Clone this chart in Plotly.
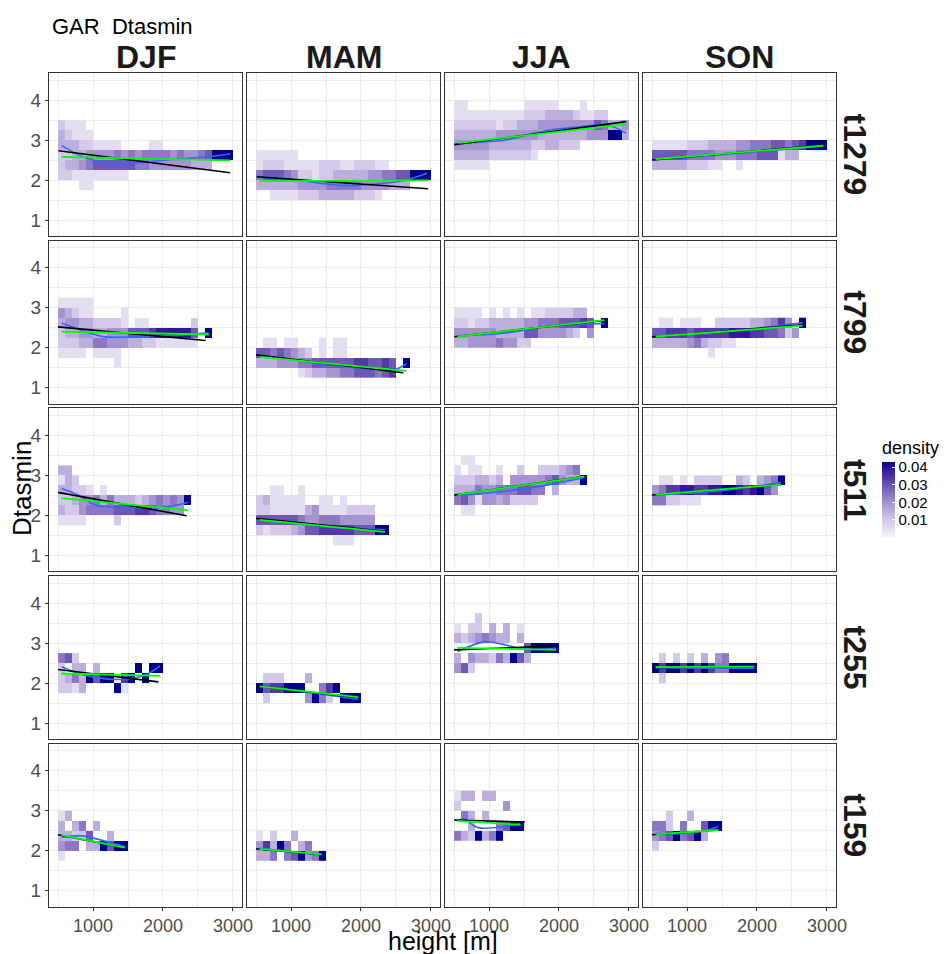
import plotly.graph_objects as go

W, H = 947, 954
SEASONS = ["DJF", "MAM", "JJA", "SON"]
PERIODS = ["t1279", "t799", "t511", "t255", "t159"]

X_BIN0 = 500      # left edge of first height bin [m]
X_BIN = 100       # height bin width [m]
Y_BIN = 0.25      # Dtasmin bin height
LEVEL_DENSITY = 0.0048   # density per shade level (digit)

# ---- binned density: (lower Dtasmin edge, shade levels per height bin from 500 m; '.' = empty)
T1279_DJF = [(3.25, "2111"), (3.0, "32111"), (2.75, "333221111....11"),
             (2.5, "2233444454545555454456999"), (2.25, "2334566666655444444333"),
             (2.0, "2211111111"), (1.75, "...11")]
T1279_MAM = [(2.5, "111111"), (2.25, "1222111112221122211"),
             (2.0, "5666542212233333445566999"), (1.75, "3333334444555554444333"),
             (1.5, "..1111222333332221")]
T1279_JJA = [(3.75, "11........11111...1"), (3.5, "1111111111222333321122"),
             (3.25, "2222221223334444444465334"), (3.0, "3333334444443333333444993"),
             (2.75, "444443333332233222"), (2.5, "333332222221"), (2.25, "11111")]
T1279_SON = [(2.75, "1111122233334455566567999"), (2.5, "666665555444555666133."),
             (2.25, "3333322211..1")]

T799_DJF = [(3.0, "11111"), (2.75, "43211....1"), (2.5, "3443322221.11......2"),
            (2.25, "23344334446667888886.9"), (2.0, "22233554443322111111"),
            (1.75, "1111.1111"), (1.5, "........1")]
T799_MAM = [(2.0, ".11.11...1.11"), (1.75, "66565432.1.11"),
            (1.5, "33344455666666776676.9"), (1.25, "......12334455666567")]
T799_JJA = [(2.75, "1111.1.1.1.11222233"), (2.5, "22122333334455566676.9"),
            (2.25, "444444333366444432.4"), (2.0, "33444454422")]
T799_SON = [(2.5, ".11.111..22222334574.9"), (2.25, "667776777778887766524"),
            (2.0, "333334532211"), (1.75, "........1")]

T511_DJF = [(3.0, "33"), (2.75, "132"), (2.5, "33221.1"),
            (2.25, "2234453533323454549"), (2.0, "322455556667765544"),
            (1.75, "1111....2")]
T511_MAM = [(2.5, "..11..1"), (2.25, "2311111..11.1"), (2.0, "22111113411112222"),
            (1.75, "66666654455544444"), (1.5, "2122234667777766699"),
            (1.25, "...........111")]
T511_JJA = [(3.25, ".11"), (3.0, "1.11..1..2..222345"), (2.75, "2223323.44444564339"),
            (2.5, "3335445556655.3"), (2.25, "564144342222"), (2.0, ".11")]
T511_SON = [(2.75, ".11.1.2222..32.3459"), (2.5, "457788778899878964."),
            (2.25, "5522111")]

T255_DJF = [(2.5, "562"), (2.25, "2.33.3.....9.99"), (2.0, "23539699.79.9"),
            (1.75, "2213....91")]
T255_MAM = [(2.0, ".222...3"), (1.75, "9677999..579"), (1.5, ".2.....4952.999")]
T255_JJA = [(3.5, "...2"), (3.25, "1.22.3.3.1"), (3.0, "32345433.3"),
            (2.75, "..........69999"), (2.5, "3.433253963"), (2.25, "462")]
T255_SON = [(2.5, ".2.2.2.3.45"), (2.25, "979979797559999"), (2.0, ".2")]

T159_DJF = [(2.75, "13"), (2.5, "3.35.3"), (2.25, "33226..3"), (2.0, "455.339699"),
            (1.75, "1")]
T159_MAM = [(2.25, "1.2..3"), (2.0, "47395.35"), (1.75, "335.569459")]
T159_JJA = [(3.25, "133.33"), (3.0, "2......4"), (2.75, ".53.3"), (2.5, "..3...5699"),
            (2.25, "5329359")]
T159_SON = [(2.75, "..2..3"), (2.5, "552.5..699"), (2.25, "45695693"), (2.0, "2")]

# ---- fitted lines: (height, Dtasmin) points
LINES = {
    ("t1279", "DJF"): dict(black=[(505, 2.73), (2960, 2.18)], green=[(550, 2.58), (2960, 2.49)],
                          blue=[(550, 2.86), (900, 2.55), (1250, 2.41), (1700, 2.44), (2050, 2.5), (2500, 2.56), (2960, 2.65)]),
    ("t1279", "MAM"): dict(black=[(510, 2.08), (2960, 1.78)], green=[(550, 1.97), (2960, 1.99)],
                          blue=[(510, 2.09), (1000, 2.02), (1500, 1.9), (1800, 1.86), (2200, 1.9), (2600, 1.98), (2940, 2.17)]),
    ("t1279", "JJA"): dict(black=[(500, 2.88), (2960, 3.46)], green=[(560, 2.93), (2960, 3.39)],
                          blue=[(500, 2.9), (900, 2.95), (1250, 3.0), (1600, 3.15), (1870, 3.25), (2300, 3.33), (2700, 3.37), (2960, 3.17)]),
    ("t1279", "SON"): dict(black=[(500, 2.5), (2950, 2.875)], green=[(550, 2.52), (2950, 2.86)],
                          blue=[(520, 2.5), (1500, 2.63), (2500, 2.78), (2950, 2.86)]),
    ("t799", "DJF"): dict(black=[(500, 2.52), (2610, 2.18)], green=[(550, 2.4), (2660, 2.33)],
                         blue=[(550, 2.62), (900, 2.4), (1170, 2.27), (1740, 2.29), (2200, 2.31), (2650, 2.37)]),
    ("t799", "MAM"): dict(black=[(500, 1.82), (2605, 1.375)], green=[(550, 1.77), (2650, 1.42)],
                         blue=[(520, 1.8), (1200, 1.66), (1800, 1.52), (2300, 1.45), (2500, 1.46), (2650, 1.6)]),
    ("t799", "JJA"): dict(black=[(500, 2.275), (2650, 2.68)], green=[(550, 2.28), (2650, 2.69)],
                         blue=[(550, 2.3), (1200, 2.36), (1900, 2.55), (2650, 2.6)]),
    ("t799", "SON"): dict(black=[(500, 2.27), (2650, 2.57)], green=[(550, 2.28), (2650, 2.55)],
                         blue=[(550, 2.3), (1500, 2.4), (2650, 2.62)]),
    ("t511", "DJF"): dict(black=[(500, 2.575), (2340, 1.99)], green=[(550, 2.43), (2360, 2.13)],
                         blue=[(550, 2.67), (800, 2.5), (1030, 2.26), (1500, 2.2), (2000, 2.2), (2360, 2.33)]),
    ("t511", "MAM"): dict(black=[(500, 1.925), (2343, 1.6)], green=[(550, 1.89), (2343, 1.59)],
                         blue=[(550, 1.9), (1500, 1.72), (2343, 1.64)]),
    ("t511", "JJA"): dict(black=[(500, 2.51), (2362, 2.975)], green=[(550, 2.52), (2362, 2.97)],
                         blue=[(550, 2.5), (1300, 2.62), (1800, 2.75), (2362, 2.95)]),
    ("t511", "SON"): dict(black=[(500, 2.51), (2343, 2.77)], green=[(550, 2.52), (2343, 2.77)],
                         blue=[(550, 2.51), (1500, 2.62), (2343, 2.82)]),
    ("t255", "DJF"): dict(black=[(500, 2.34), (1933, 2.03)], green=[(550, 2.24), (1960, 2.18)],
                         blue=[(553, 2.41), (886, 2.2), (1410, 2.09), (1743, 2.2), (1957, 2.43)]),
    ("t255", "MAM"): dict(black=[(500, 1.93), (1938, 1.64)], green=[(550, 1.92), (1960, 1.65)],
                         blue=[(550, 1.92), (1200, 1.78), (1960, 1.6)]),
    ("t255", "JJA"): dict(black=[(500, 2.83), (1957, 2.93)], green=[(550, 2.88), (1957, 2.83)],
                         blue=[(550, 2.79), (934, 3.03), (1170, 2.98), (1500, 2.85), (1957, 2.87)]),
    ("t255", "SON"): dict(black=[(500, 2.385), (1962, 2.41)], green=[(550, 2.4), (1962, 2.41)],
                         blue=[(550, 2.37), (1962, 2.37)]),
    ("t159", "DJF"): dict(black=[(500, 2.4), (1457, 2.075)], green=[(550, 2.39), (1457, 2.08)],
                         blue=[(550, 2.34), (800, 2.38), (900, 2.36), (1457, 2.1)]),
    ("t159", "MAM"): dict(black=[(500, 2.05), (1438, 1.9)], green=[(550, 2.05), (1438, 1.91)],
                         blue=[(550, 2.06), (1438, 1.9)]),
    ("t159", "JJA"): dict(black=[(500, 2.77), (1514, 2.72)], green=[(550, 2.75), (1450, 2.65)],
                         blue=[(539, 2.74), (633, 2.8), (847, 2.58), (1443, 2.68)]),
    ("t159", "SON"): dict(black=[(500, 2.4), (1447, 2.52)], green=[(550, 2.41), (1447, 2.52)],
                         blue=[(550, 2.43), (1100, 2.45), (1447, 2.6)]),
}

BINS = {
    ("t1279", "DJF"): T1279_DJF, ("t1279", "MAM"): T1279_MAM, ("t1279", "JJA"): T1279_JJA, ("t1279", "SON"): T1279_SON,
    ("t799", "DJF"): T799_DJF, ("t799", "MAM"): T799_MAM, ("t799", "JJA"): T799_JJA, ("t799", "SON"): T799_SON,
    ("t511", "DJF"): T511_DJF, ("t511", "MAM"): T511_MAM, ("t511", "JJA"): T511_JJA, ("t511", "SON"): T511_SON,
    ("t255", "DJF"): T255_DJF, ("t255", "MAM"): T255_MAM, ("t255", "JJA"): T255_JJA, ("t255", "SON"): T255_SON,
    ("t159", "DJF"): T159_DJF, ("t159", "MAM"): T159_MAM, ("t159", "JJA"): T159_JJA, ("t159", "SON"): T159_SON,
}

X_TICKS = [1000, 2000, 3000]
X_MINOR = [500, 1500, 2500]
Y_TICKS = [1, 2, 3, 4]
Y_MINOR = [1.5, 2.5, 3.5, 4.5]
X_RANGE = [371, 3129]
Y_RANGE = [0.6, 4.675]
CB_TICKS = [0.01, 0.02, 0.03, 0.04]

# ---- layout geometry (pixels)
COL_L = [49, 247, 445, 643]
PW = 193
ROW_T = [73 + r * 167.7 for r in range(5)]
PH = 163

FONT = "Liberation Sans, Arial, sans-serif"
GRID = "#ebebeb"

fig = go.Figure()


def build_heat(rows):
    lows = sorted(set(r[0] for r in rows))
    ylo, yhi = min(lows), max(lows)
    n_y = int(round((yhi - ylo) / Y_BIN)) + 1
    n_x = max(len(s) for _, s in rows)
    z = [[None] * n_x for _ in range(n_y)]
    for low, s in rows:
        j = int(round((low - ylo) / Y_BIN))
        for k, ch in enumerate(s):
            if ch.isdigit() and ch != "0":
                z[j][k] = int(ch) * LEVEL_DENSITY
    xs = [X_BIN0 + X_BIN * (k + 0.5) for k in range(n_x)]
    ys = [ylo + Y_BIN * (j + 0.5) for j in range(n_y)]
    return xs, ys, z


layout_axes = {}
for r, per in enumerate(PERIODS):
    for c, sea in enumerate(SEASONS):
        i = r * 4 + c + 1
        xa = "x" if i == 1 else f"x{i}"
        ya = "y" if i == 1 else f"y{i}"
        xs, ys, z = build_heat(BINS[(per, sea)])
        fig.add_trace(go.Heatmap(x=xs, y=ys, z=z, coloraxis="coloraxis", xaxis=xa, yaxis=ya,
                                 xgap=0, ygap=0, hoverinfo="skip"))
        ln = LINES[(per, sea)]
        fig.add_trace(go.Scatter(x=[p[0] for p in ln["blue"]], y=[p[1] for p in ln["blue"]],
                                 mode="lines", line=dict(color="#3366ff", width=1.6, shape="spline"),
                                 xaxis=xa, yaxis=ya, hoverinfo="skip"))
        fig.add_trace(go.Scatter(x=[p[0] for p in ln["black"]], y=[p[1] for p in ln["black"]],
                                 mode="lines", line=dict(color="black", width=1.6),
                                 xaxis=xa, yaxis=ya, hoverinfo="skip"))
        fig.add_trace(go.Scatter(x=[p[0] for p in ln["green"]], y=[p[1] for p in ln["green"]],
                                 mode="lines", line=dict(color="#00ff00", width=1.8),
                                 xaxis=xa, yaxis=ya, hoverinfo="skip"))

        x0, x1 = COL_L[c] / W, (COL_L[c] + PW) / W
        y1, y0 = 1 - ROW_T[r] / H, 1 - (ROW_T[r] + PH) / H
        bottom = r == 4
        left = c == 0
        layout_axes["xaxis" if i == 1 else f"xaxis{i}"] = dict(
            domain=[x0, x1], anchor=ya, range=X_RANGE, tickvals=X_TICKS, automargin=False,
            showticklabels=bottom, ticks="outside" if bottom else "", ticklen=3, tickcolor="#333333",
            tickfont=dict(family=FONT, size=18, color="#4d4d4d"),
            showgrid=True, gridcolor=GRID, gridwidth=1.1, zeroline=False,
            minor=dict(tickvals=X_MINOR, showgrid=True, gridcolor=GRID, gridwidth=0.6, ticks=""),
            showline=True, mirror=True, linecolor="#333333", linewidth=1)
        layout_axes["yaxis" if i == 1 else f"yaxis{i}"] = dict(
            domain=[y0, y1], anchor=xa, range=Y_RANGE, tickvals=Y_TICKS, automargin=False,
            showticklabels=left, ticks="outside" if left else "", ticklen=3, tickcolor="#333333",
            tickfont=dict(family=FONT, size=19, color="#4d4d4d"),
            showgrid=True, gridcolor=GRID, gridwidth=1.1, zeroline=False,
            minor=dict(tickvals=Y_MINOR, showgrid=True, gridcolor=GRID, gridwidth=0.6, ticks=""),
            showline=True, mirror=True, linecolor="#333333", linewidth=1)

annotations = [
    dict(text="GAR\u00a0\u00a0Dtasmin", x=50 / W, y=1 - 27 / H, xanchor="left", yanchor="middle",
         showarrow=False, font=dict(family=FONT, size=22, color="black")),
    dict(text="Dtasmin", x=22 / W, y=1 - 489 / H, textangle=-90, xanchor="center", yanchor="middle",
         showarrow=False, font=dict(family=FONT, size=26, color="black")),
    dict(text="height [m]", x=443 / W, y=1 - 941 / H, xanchor="center", yanchor="middle",
         showarrow=False, font=dict(family=FONT, size=25, color="black")),
]
for c, sea in enumerate(SEASONS):
    annotations.append(dict(text=sea, x=(COL_L[c] + PW / 2) / W, y=1 - 57 / H, xanchor="center",
                            yanchor="middle", showarrow=False,
                            font=dict(family=FONT, size=32, color="#1a1a1a", weight="bold")))
for r, per in enumerate(PERIODS):
    annotations.append(dict(text=per, x=855 / W, y=1 - (ROW_T[r] + PH / 2) / H, textangle=90,
                            xanchor="center", yanchor="middle", showarrow=False,
                            font=dict(family=FONT, size=32, color="#1a1a1a", weight="bold")))
for a in annotations:
    a["xref"] = "paper"
    a["yref"] = "paper"

fig.update_layout(
    width=W, height=H, margin=dict(l=0, r=0, t=0, b=0, autoexpand=False),
    paper_bgcolor="white", plot_bgcolor="white", showlegend=False,
    annotations=annotations,
    coloraxis=dict(
        cmin=0, cmax=0.0427,
        colorscale=[[0.0, "#f5f3fa"], [0.25, "#cfc4e6"], [0.5, "#9a88cb"], [0.75, "#5d43ab"],
                    [0.9, "#33189a"], [1.0, "#00008b"]],
        colorbar=dict(x=882 / W, xanchor="left", y=1 - 537.5 / H, yanchor="bottom",
                      len=100, lenmode="pixels", thickness=13, thicknessmode="pixels",
                      xpad=0, ypad=0, outlinewidth=0,
                      tickvals=CB_TICKS, ticktext=[f"{v:.2f}" for v in CB_TICKS],
                      ticks="inside", tickcolor="white", ticklen=3,
                      tickfont=dict(family=FONT, size=15, color="black"),
                      title=dict(text="density", side="top", font=dict(family=FONT, size=18, color="black"))),
    ),
    **layout_axes,
)

fig.write_html("out.html", config={"displayModeBar": False},
               post_script="document.body.style.margin='0';document.body.style.overflow='hidden';")
